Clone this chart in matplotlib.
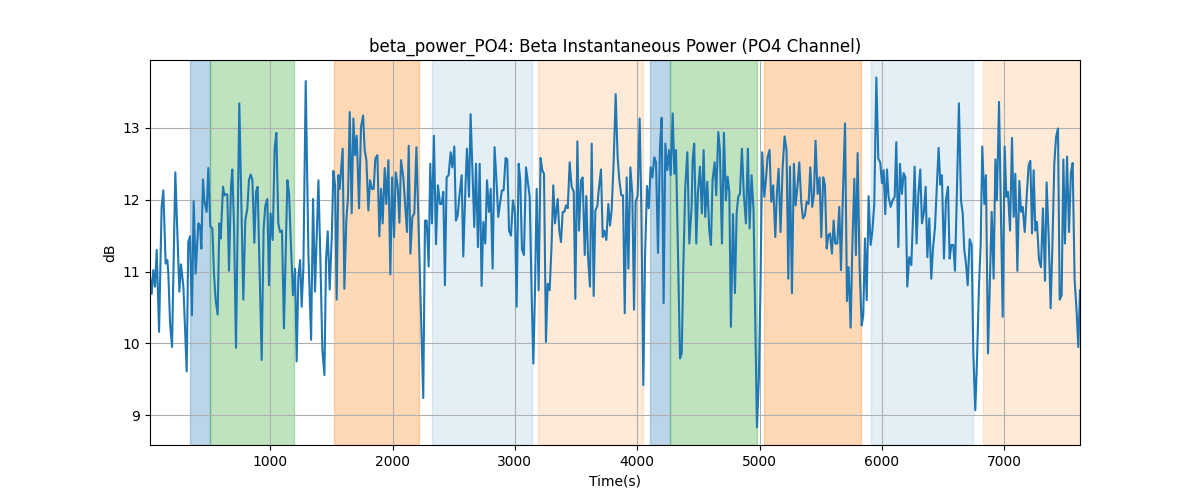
import matplotlib
matplotlib.use("Agg")
import matplotlib.pyplot as plt

# time stamps (s) and beta power (dB)
time_s = [
    17, 31, 44, 58, 72, 91, 112, 126, 145, 159,
    167, 181, 197, 224, 257, 270, 290, 317, 330, 344,
    360, 374, 390, 412, 426, 437, 450, 461, 480, 494,
    510, 527, 540, 554, 570, 584, 595, 614, 625, 636,
    649, 663, 679, 690, 704, 720, 747, 780, 796, 813,
    826, 840, 854, 870, 884, 897, 930, 946, 960, 976,
    990, 1003, 1020, 1036, 1050, 1066, 1080, 1096, 1112,
    1140, 1154, 1170, 1186, 1203, 1216, 1230, 1244, 1257, 1271,
    1290, 1312, 1334, 1350, 1366, 1394, 1410, 1426, 1443, 1456,
    1470, 1486, 1503, 1516, 1530, 1543, 1557, 1568, 1579, 1592,
    1606, 1622, 1636, 1650, 1666, 1680, 1693, 1707, 1726, 1742,
    1759, 1772, 1786, 1802, 1816, 1832, 1846, 1859, 1876, 1892,
    1906, 1919, 1936, 1949, 1966, 1982, 1996, 2012, 2026, 2042,
    2056, 2069, 2088, 2118, 2132, 2146, 2162, 2178, 2195,
    2251, 2265, 2279, 2295, 2308, 2322, 2338, 2355, 2371, 2388,
    2401, 2415, 2428, 2442, 2458, 2475, 2488, 2505, 2518, 2532,
    2548, 2565, 2578, 2595, 2608, 2625, 2638, 2655, 2668, 2682,
    2698, 2712, 2728, 2742, 2758, 2772, 2788, 2802, 2818, 2834,
    2848, 2864, 2878, 2894, 2908, 2924, 2938, 2952, 2968, 2984,
    3001, 3014, 3031, 3044, 3058, 3074, 3091, 3104, 3121, 3137,
    3151, 3164, 3178, 3194, 3210, 3224, 3238, 3254, 3268, 3284,
    3300, 3314,
    3328, 3350, 3363, 3377, 3391, 3404, 3418, 3432, 3448, 3464,
    3481, 3494, 3511, 3524, 3541, 3554, 3571, 3584, 3598, 3614,
    3628, 3644, 3658, 3674, 3688, 3704, 3718, 3731, 3748, 3764,
    3778, 3791, 3808, 3824, 3840, 3854, 3870, 3884, 3898, 3914,
    3928, 3944, 3960, 3974, 3987, 4004, 4020, 4034, 4050, 4064,
    4080, 4094, 4110, 4124, 4140, 4154, 4170, 4186, 4200, 4216,
    4230, 4246, 4260, 4274, 4290, 4304, 4317, 4334, 4350, 4364,
    4377, 4393, 4410, 4426,
    4445, 4453, 4466, 4483, 4496, 4513, 4529, 4543, 4556, 4573,
    4589, 4603, 4616, 4633, 4646, 4663, 4676, 4693, 4709, 4725,
    4739, 4753, 4766, 4783, 4799, 4813, 4826, 4840, 4856, 4872,
    4889, 4905, 4919, 4935, 4951, 4962, 4979, 4995, 5009, 5022,
    5039, 5052, 5066, 5082, 5096, 5112, 5129, 5142, 5156, 5172,
    5189, 5205, 5221, 5235, 5249, 5265, 5281, 5295, 5311, 5325,
    5341, 5355, 5371, 5385, 5401, 5415, 5431, 5445, 5458, 5475,
    5491, 5505, 5521, 5535,
    5549, 5562, 5576, 5592, 5606, 5619, 5636, 5652, 5666, 5682,
    5699, 5715, 5728, 5745, 5758, 5775, 5788, 5802, 5818, 5835,
    5848, 5862, 5876, 5892, 5908, 5922, 5938, 5955, 5971, 5987,
    6001, 6015, 6028, 6042, 6055, 6072, 6088, 6105, 6118, 6135,
    6148, 6164, 6178, 6192, 6208, 6224, 6241, 6254, 6268, 6284,
    6298, 6314, 6328, 6344, 6358, 6372, 6388, 6404, 6418, 6434,
    6448, 6464, 6478, 6491, 6508, 6524, 6541, 6554, 6568, 6584,
    6598, 6614, 6630,
    6647, 6661, 6674, 6688, 6702, 6718, 6734, 6748, 6764, 6778,
    6794, 6808, 6821, 6838, 6851, 6868, 6884, 6898, 6914, 6928,
    6941, 6958, 6971, 6988, 7004, 7018, 7031, 7048, 7064, 7078,
    7091, 7108, 7124, 7138, 7151, 7168, 7184, 7200, 7214, 7228,
    7241, 7255, 7268, 7285, 7301, 7317, 7334, 7347, 7364, 7380,
    7394, 7410, 7424, 7440, 7454, 7470, 7484, 7497, 7514, 7530,
    7546, 7560, 7576, 7593, 7606, 7620,
]

power_db = [
    10.93, 10.69, 11.02, 10.79, 11.30, 10.16, 11.90, 12.13, 11.11, 11.16,
    10.97, 10.28, 9.95, 12.38, 10.72, 11.10, 10.79, 9.61, 11.41, 11.49,
    10.39, 11.98, 10.97, 11.67, 11.64, 11.32, 12.28, 11.99, 11.83, 12.44,
    11.63, 11.60, 10.97, 10.60, 10.40, 11.67, 11.46, 12.18, 12.06, 12.08,
    12.07, 11.01, 12.18, 12.42, 11.62, 9.94, 13.34, 10.61, 11.71, 11.88,
    12.27, 12.35, 12.28, 11.40, 12.11, 12.18, 9.77, 11.60, 11.92, 12.01,
    10.81, 11.81, 11.44, 12.71, 12.93, 11.67, 11.55, 11.57, 10.21,
    12.27, 12.08, 11.34, 10.67, 11.04, 9.75, 10.93, 11.16, 10.51, 11.06,
    13.65, 11.25, 10.05, 12.01, 10.72, 12.27, 11.16, 9.91, 9.56, 11.16,
    11.56, 10.75, 11.48, 12.40, 12.20, 10.61, 12.34, 12.15, 12.41, 12.71,
    10.76, 11.71, 12.04, 13.22, 11.81, 13.13, 12.62, 12.89, 11.88, 13.01,
    13.17, 12.69, 12.55, 11.85, 12.27, 12.15, 12.15, 12.57, 12.62, 11.49,
    12.15, 11.67, 12.44, 11.94, 12.55, 10.96, 12.31, 11.48, 12.38, 12.18,
    11.68, 12.55, 12.31, 11.55, 12.75, 11.25, 11.76, 11.81, 12.73,
    9.24, 11.71, 11.71, 11.07, 12.50, 11.67, 12.89, 11.38, 12.20, 11.94,
    11.94, 12.11, 10.81, 12.31, 12.34, 12.66, 12.45, 12.74, 11.71, 11.78,
    12.08, 12.34, 11.21, 12.13, 12.71, 12.04, 13.19, 12.31, 11.62, 12.50,
    11.34, 12.50, 10.80, 11.69, 11.39, 12.27, 11.83, 12.15, 11.04, 12.73,
    12.31, 11.76, 11.94, 12.13, 12.13, 12.58, 12.56, 11.57, 11.50, 11.99,
    11.81, 10.51, 12.50, 12.27, 11.31, 11.23, 12.45, 12.27, 12.04, 10.69,
    9.72, 10.69, 12.15, 10.74, 12.58, 12.41, 12.36, 10.02, 10.83, 10.74,
    11.37, 12.20,
    11.67, 12.01, 11.57, 11.41, 11.83, 11.83, 11.92, 11.88, 12.52, 12.18,
    12.11, 10.62, 12.81, 11.57, 12.27, 12.31, 11.23, 12.05, 11.20, 10.79,
    12.78, 10.66, 11.85, 11.91, 12.18, 12.42, 11.48, 11.57, 11.44, 11.94,
    11.64, 11.85, 12.55, 13.47, 12.59, 12.27, 12.06, 12.06, 10.42, 12.31,
    11.04, 12.45, 12.08, 10.47, 11.97, 12.06, 13.13, 11.85, 9.42, 11.20,
    12.19, 11.88, 12.45, 12.31, 12.59, 12.52, 11.26, 12.73, 13.14, 10.56,
    12.78, 12.41, 12.69, 12.34, 13.20, 12.36, 12.69, 11.16, 9.79, 9.86,
    11.06, 12.18, 12.66, 11.39,
    11.90, 12.55, 12.78, 11.39, 12.08, 12.46, 11.81, 12.69, 11.76, 12.25,
    11.57, 11.37, 12.27, 12.52, 12.06, 12.94, 12.69, 11.39, 12.93, 11.99,
    12.32, 12.11, 10.23, 11.80, 10.70, 11.81, 12.04, 12.08, 12.71, 12.06,
    11.67, 12.71, 11.60, 12.34, 11.85, 10.69, 8.83, 9.54, 10.93, 12.66,
    12.04, 12.27, 12.59, 12.69, 11.97, 12.20, 11.48, 12.08, 12.43, 11.55,
    12.45, 12.88, 12.69, 10.90, 12.46, 10.70, 12.50, 11.92, 12.20, 12.52,
    11.97, 11.74, 11.78, 11.97, 11.94, 12.45, 11.90, 12.08, 12.82, 12.08,
    12.31, 11.48, 12.31, 12.20,
    11.32, 11.50, 11.53, 11.25, 11.71, 11.39, 11.39, 11.90, 11.02, 12.08,
    13.06, 10.59, 11.06, 10.22, 11.30, 12.29, 11.23, 12.65, 11.06, 10.25,
    10.39, 11.46, 10.60, 12.05, 11.37, 11.55, 11.94, 13.70, 12.57, 12.52,
    12.23, 12.41, 11.80, 12.42, 12.04, 11.90, 11.99, 12.04, 12.80, 11.34,
    12.50, 12.08, 12.37, 12.31, 10.79, 11.20, 11.09, 11.71, 12.46, 11.39,
    12.06, 12.42, 11.67, 11.83, 12.18, 11.20, 11.74, 10.90, 11.32, 11.60,
    12.13, 12.72, 12.21, 12.34, 11.18, 11.99, 12.18, 11.18, 11.37, 11.37,
    11.01, 12.13, 13.34,
    11.99, 11.81, 11.30, 11.11, 10.81, 11.45, 11.37, 9.86, 9.07, 9.77,
    10.79, 11.37, 12.74, 11.94, 12.34, 9.86, 10.93, 11.83, 10.90, 12.56,
    11.99, 13.36, 12.04, 10.37, 12.74, 12.04, 12.11, 11.57, 12.86, 11.76,
    12.36, 11.01, 12.26, 11.83, 11.90, 11.55, 12.04, 12.48, 12.54, 11.53,
    12.41, 11.57, 11.69, 11.16, 11.06, 11.88, 10.87, 12.24, 11.48, 10.49,
    11.34, 12.50, 12.87, 12.99, 10.61, 10.67, 12.56, 11.39, 12.60, 11.55,
    12.38, 12.51, 10.89, 10.42, 9.95, 10.74,
]

# shaded segments (s)
span_start = [344, 507, 1521, 2322, 3191, 4104, 4270, 5036, 5910, 6829]
span_end = [507, 1194, 2213, 3137, 4044, 4270, 4976, 5826, 6742, 7620]
span_kind = ["blue", "green", "orange", "light_blue", "light_orange",
             "blue", "green", "orange", "light_blue", "light_orange"]

kind_style = {
    "blue": ("tab:blue", 0.3),
    "green": ("tab:green", 0.3),
    "orange": ("tab:orange", 0.3),
    "light_blue": ("tab:blue", 0.12),
    "light_orange": ("tab:orange", 0.16),
}

fig, ax = plt.subplots(figsize=(12, 5), dpi=100)

for s, e, k in zip(span_start, span_end, span_kind):
    c, a = kind_style[k]
    ax.axvspan(s, e, color=c, alpha=a)

ax.plot(time_s, power_db, color="tab:blue", linewidth=1.5)

ax.set_xlim(time_s[0], time_s[-1])
ax.set_title("beta_power_PO4: Beta Instantaneous Power (PO4 Channel)")
ax.set_xlabel("Time(s)")
ax.set_ylabel("dB")
ax.grid(True)

fig.savefig("out.png", dpi=100)
